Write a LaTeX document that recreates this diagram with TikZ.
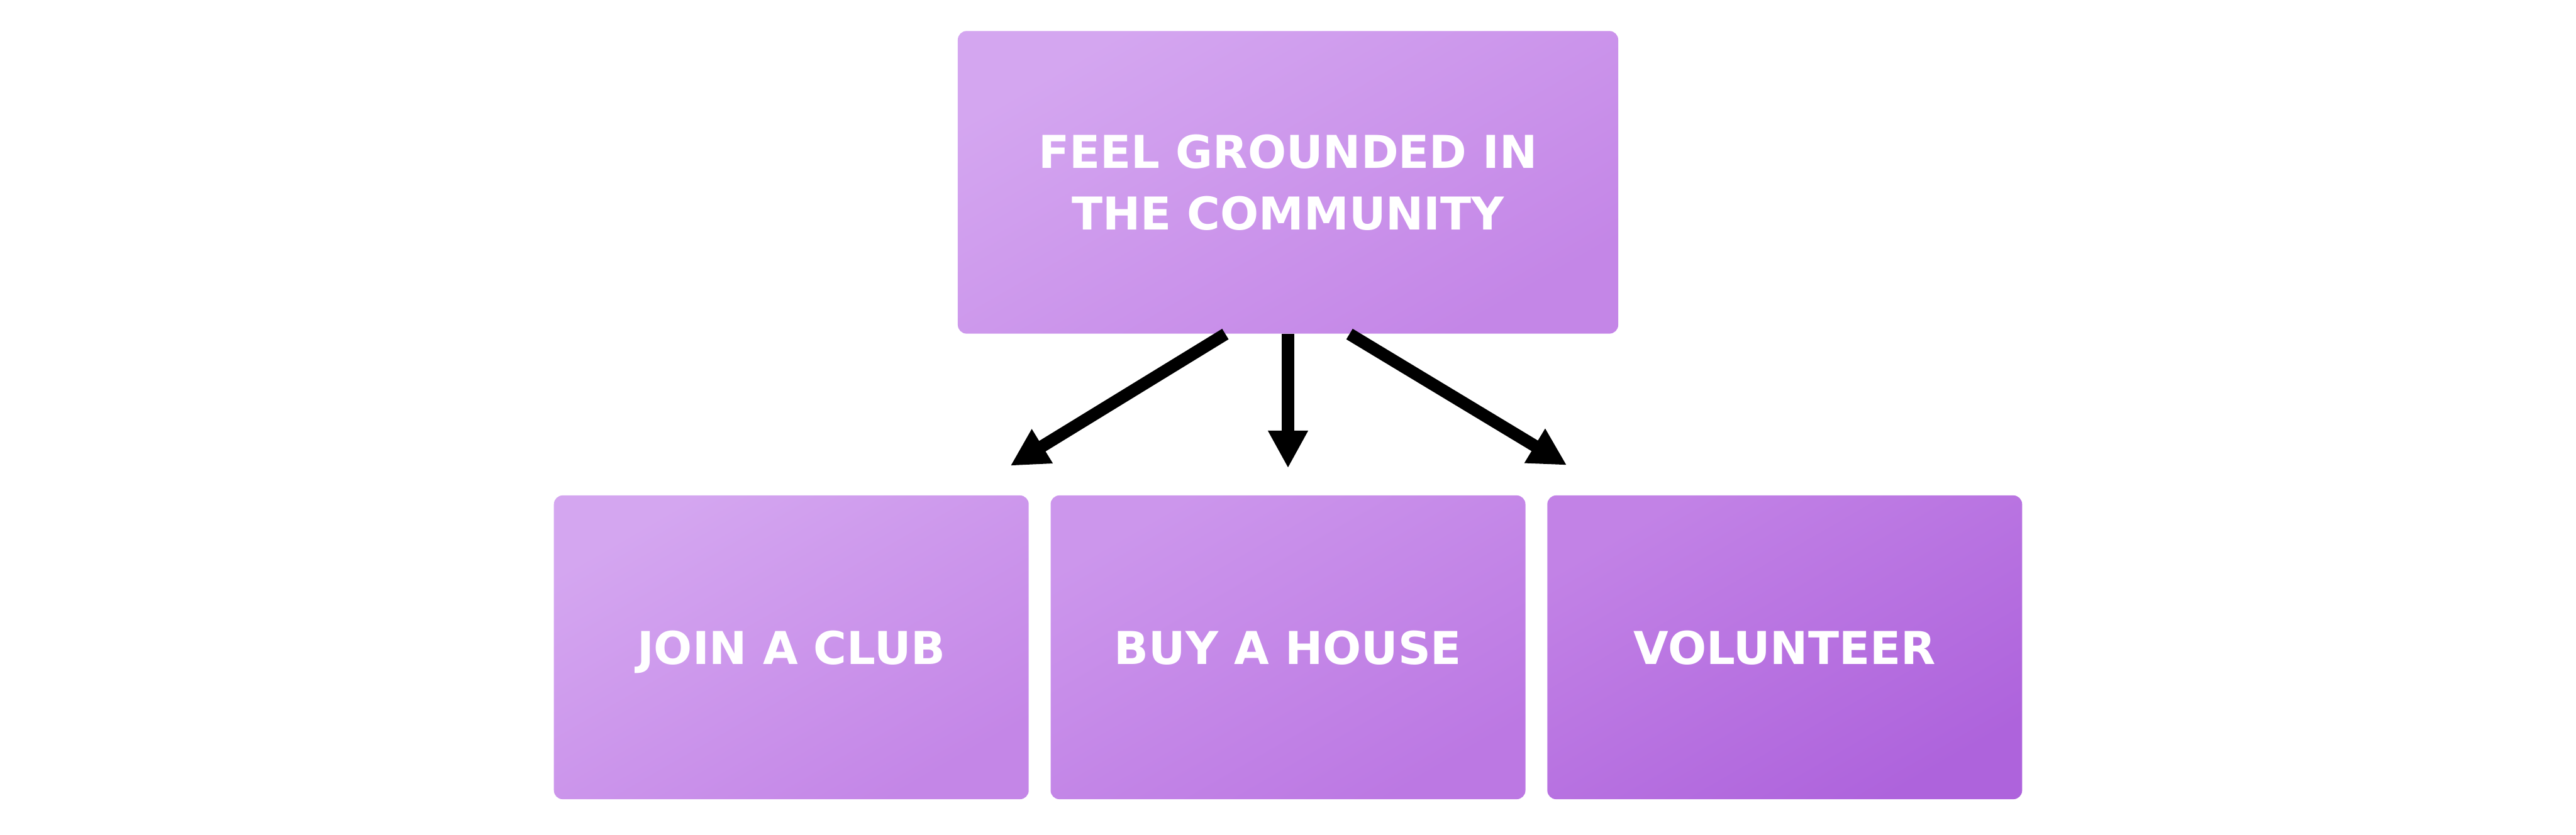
\documentclass[tikz,border=0pt]{standalone}
\usepackage{fontspec}
\setmainfont{DejaVu Sans}
\usepackage{tikz}
\usetikzlibrary{arrows.meta, positioning}
\usepackage{xcolor}

\definecolor{lilacA}{HTML}{D4A6F0}
\definecolor{lilacB}{HTML}{C486E7}
\definecolor{lilacC}{HTML}{CC96EC}
\definecolor{lilacD}{HTML}{BC78E3}
\definecolor{lilacE}{HTML}{C282E6}
\definecolor{lilacF}{HTML}{AE63DC}

\begin{document}
\begin{tikzpicture}[
  node distance=2.75cm,
  box/.style={rectangle, rounded corners=0.15cm, draw=none,
              minimum width=8.11cm, minimum height=5.19cm,
              align=center, text=white, text depth=0pt,
              font=\fontsize{22}{30}\selectfont\bfseries},
  arrow/.style={-{Triangle[length=0.64cm, width=0.64cm]}, line width=0.21cm}
]
\useasboundingbox (0,0) rectangle (44,-14.26);

\node[box, minimum width=11.28cm, minimum height=5.17cm,
      top color=lilacA, bottom color=lilacB, shading angle=30] (goal) at (22,-3.115)
      {FEEL GROUNDED IN\\THE COMMUNITY};

\node[box, below=2.75cm of goal, top color=lilacC, bottom color=lilacD, shading angle=30] (house) {BUY A HOUSE};
\node[box, left=0.36cm of house, top color=lilacA, bottom color=lilacB, shading angle=30] (club) {JOIN A CLUB};
\node[box, right=0.36cm of house, top color=lilacE, bottom color=lilacF, shading angle=30] (volunteer) {VOLUNTEER};

\draw[arrow] ([xshift=-1.07cm]goal.south) -- ([shift={(-0.32,0.5)}]club.north east);
\draw[arrow] (goal.south) -- ([yshift=0.46cm]house.north);
\draw[arrow] ([xshift=1.05cm]goal.south) -- ([shift={(0.34,0.51)}]volunteer.north west);

\end{tikzpicture}
\end{document}
